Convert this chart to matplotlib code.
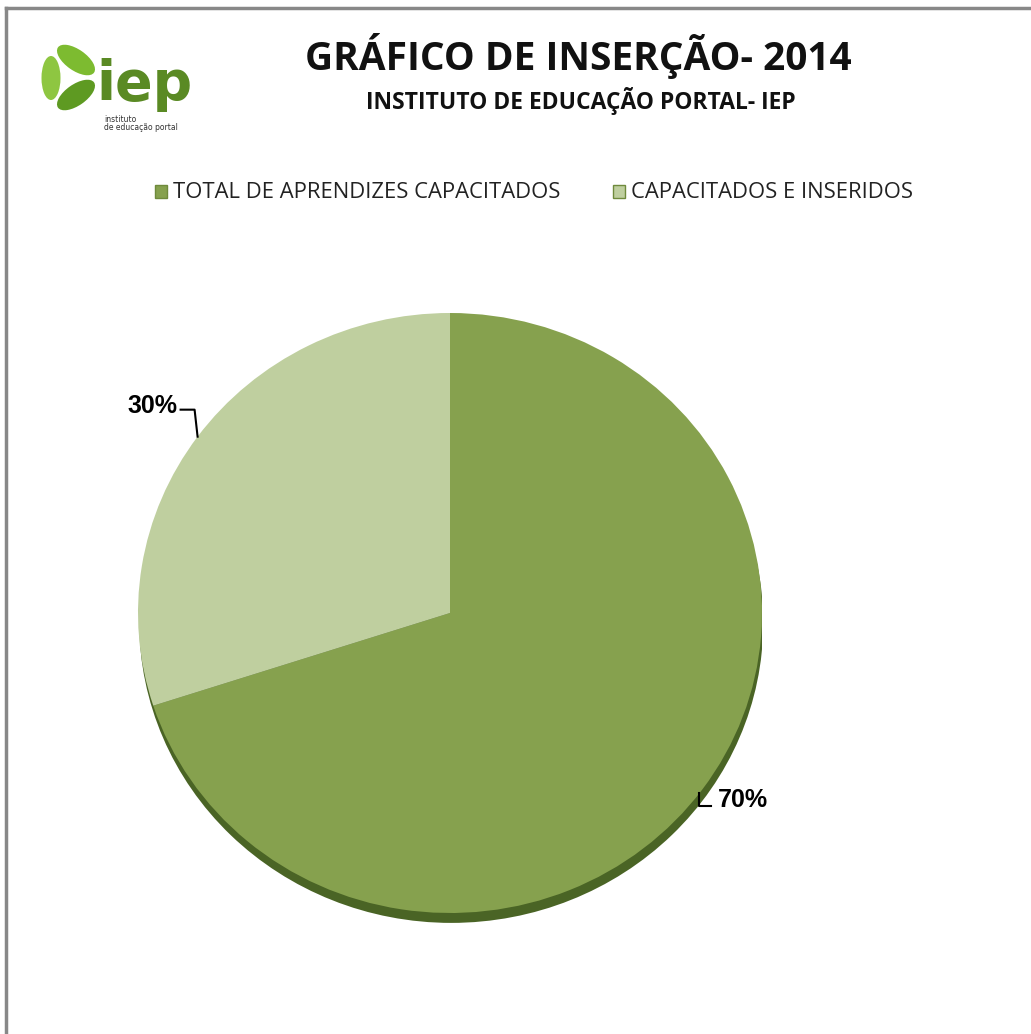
import numpy as np
import matplotlib
matplotlib.use("Agg")
import matplotlib.pyplot as plt
from matplotlib.patches import Ellipse
from matplotlib.lines import Line2D

# ---------------- data ----------------
categories = ["TOTAL DE APRENDIZES CAPACITADOS", "CAPACITADOS E INSERIDOS"]
values = [70, 30]
colors = ["#86a14e", "#bfcf9f"]
title = "GRÁFICO DE INSERÇÃO- 2014"
subtitle = "INSTITUTO DE EDUCAÇÃO PORTAL- IEP"

W, H = 1031, 1034
fig = plt.figure(figsize=(W / 100, H / 100), dpi=100)
fig.patch.set_facecolor("white")

FONT = ["Open Sans", "DejaVu Sans"]

# pie axes (pixel box of pie: x 138..762, y 313..913 plus shadow)
px0, px1 = 138, 762
py0, py1 = 313, 928
ax = fig.add_axes([px0 / W, 1 - py1 / H, (px1 - px0) / W, (py1 - py0) / H])
rx = (px1 - px0) / 2
ry = 300.0
extra = (py1 - py0 - 2 * ry) / ry

# shadow
ax.add_patch(Ellipse((0.004, -0.033), 2.0, 2.0, facecolor="#4a6425", edgecolor="none", zorder=0))
wedges, _ = ax.pie(values, colors=colors, startangle=90, counterclock=False,
                   radius=1.0, center=(0, 0),
                   wedgeprops=dict(linewidth=0, edgecolor="none"))
for w in wedges:
    w.set_zorder(2)
ax.set_aspect("auto")
ax.set_xlim(-1, 1)
ax.set_ylim(-1 - extra, 1)
ax.axis("off")

# overlay axes in pixel coords
ov = fig.add_axes([0, 0, 1, 1], facecolor="none")
ov.set_xlim(0, W)
ov.set_ylim(H, 0)
ov.axis("off")

# border (top and left)
ov.add_line(Line2D([6, W], [7.5, 7.5], color="#888888", lw=2.5))
ov.add_line(Line2D([6, 6], [7.5, H], color="#888888", lw=2.5))

# titles
ov.text(578, 56, title, ha="center", va="center", fontsize=28, fontweight="bold",
        family=FONT, color="#111111")
ov.text(581, 101, subtitle, ha="center", va="center", fontsize=16.5, fontweight="bold",
        family=FONT, color="#111111")

# legend
leg_items = [(155, categories[0], colors[0]), (613, categories[1], colors[1])]
for x0, lab, c in leg_items:
    ov.add_patch(plt.Rectangle((x0, 185), 12, 13, facecolor=c, edgecolor="#6f8a3c", lw=1))
    ov.text(x0 + 18, 192, lab, ha="left", va="center", fontsize=15.8,
            family=FONT, color="#222222")

# data labels with leader lines, based on wedge angles
cx, cy = (px0 + px1) / 2, py0 + ry
total = sum(values)
for w, v in zip(wedges, values):
    ang = np.deg2rad((w.theta1 + w.theta2) / 2)
    ex = cx + rx * np.cos(ang)
    ey = cy - ry * np.sin(ang)
    lab = f"{round(100 * v / total)}%"
    if np.cos(ang) < 0:
        ov.add_line(Line2D([ex, ex - 3, ex - 17], [ey, ey - 27, ey - 27], color="black", lw=1.5))
        ov.text(ex - 20, ey - 31, lab, ha="right", va="center", fontsize=18,
                fontweight="bold", family="Liberation Sans", color="black")
    else:
        ov.add_line(Line2D([ex - 3, ex - 3, ex + 9], [ey + 4, ey + 17, ey + 17], color="black", lw=1.5))
        ov.text(ex + 15, ey + 11, lab, ha="left", va="center", fontsize=18,
                fontweight="bold", family="Liberation Sans", color="black")

# logo (leaves + text)
ov.add_patch(Ellipse((76, 60), 44, 21, angle=35, facecolor="#7dbb30", edgecolor="none"))
ov.add_patch(Ellipse((76, 95), 44, 21, angle=-35, facecolor="#5e9a22", edgecolor="none"))
ov.add_patch(Ellipse((51, 78), 44, 19, angle=90, facecolor="#8ec641", edgecolor="none"))
ov.text(96, 100, "iep", ha="left", va="baseline", fontsize=40, fontweight="bold",
        family="DejaVu Sans", color="#5a8a24")
ov.text(104, 119, "instituto", ha="left", va="center", fontsize=5.5, color="#333333")
ov.text(104, 128, "de educação portal", ha="left", va="center", fontsize=5.5, color="#333333")

fig.savefig("out.png", dpi=100, facecolor="white")
